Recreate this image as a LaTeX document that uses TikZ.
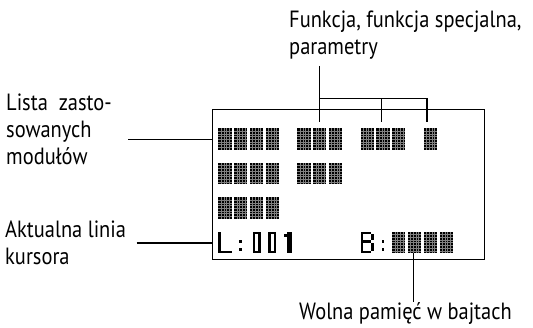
\documentclass[tikz,border=0pt]{standalone}
\usepackage{fontspec}
\setmainfont[FakeStretch=0.87]{PT Sans}
\newcommand\lcdpix[4]{\fill[lcdon] ({218.3+#1*15.8+#3*2.66},{128.3+#2*34.47+#4*2.71}) rectangle ++(2.66,2.71);}
\newcommand\lcdblock[2]{%
  \fill[lcdon] ({218.3+#1*15.8},{128.3+#2*34.47}) rectangle ++(13.3,21.7);
  \foreach \c in {1,...,4}{\draw[lcdgrid] ({218.3+#1*15.8+\c*2.66},{128.3+#2*34.47}) -- ++(0,21.7);}
  \foreach \r in {1,...,7}{\draw[lcdgrid] ({218.3+#1*15.8},{128.3+#2*34.47+\r*2.71}) -- ++(13.3,0);}}
\newcommand\lcdglyph[3]{\foreach \c/\r in {#3}{\lcdpix{#1}{#2}{\c}{\r}}}
\begin{document}
\begin{tikzpicture}[x=1pt,y=-1pt,
  lcdon/.style={fill=black},
  lcdgrid/.style={draw=black!50,line width=0.2pt},
  lead/.style={line width=1.1pt},
  lbl/.style={inner sep=0pt,anchor=base west,font=\fontsize{23.5}{27}\selectfont}]
\useasboundingbox (0,0) rectangle (533,328);
% LCD frame
\node[draw,line width=1.1pt,minimum width=272pt,minimum height=150pt,anchor=north west,inner sep=0pt] (lcd) at (212,109.3) {};
% row 1
\foreach \k in {0,1,2,3,5,6,7,9,10,11,13}{\lcdblock{\k}{0}}
% row 2
\foreach \k in {0,1,2,3,5,6,7}{\lcdblock{\k}{1}}
% row 3
\foreach \k in {0,1,2,3}{\lcdblock{\k}{2}}
% row 4: L:001  B:####
\lcdglyph{0}{3}{0/0,0/1,0/2,0/3,0/4,0/5,0/6,0/7,1/7,2/7,3/7,4/7}
\lcdglyph{1}{3}{2/3,2/6}
\lcdglyph{2}{3}{1/0,1/1,1/2,1/3,1/4,1/5,1/6,1/7,3/0,3/1,3/2,3/3,3/4,3/5,3/6,3/7,2/0,2/7}
\lcdglyph{3}{3}{1/0,1/1,1/2,1/3,1/4,1/5,1/6,1/7,3/0,3/1,3/2,3/3,3/4,3/5,3/6,3/7,2/0,2/7}
\lcdglyph{4}{3}{2/0,2/1,2/2,2/3,2/4,2/5,2/6,2/7,3/0,3/1,3/2,3/3,3/4,3/5,3/6,3/7,1/1}
\lcdglyph{9}{3}{0/0,1/0,2/0,3/0,0/1,0/2,0/3,0/4,0/5,0/6,0/7,1/7,2/7,3/7,4/1,4/2,1/3,2/3,3/3,4/4,4/5,4/6}
\lcdglyph{10}{3}{2/3,2/6}
\foreach \k in {11,12,13,14}{\lcdblock{\k}{3}}
% labels
\node[lbl] (f1) at (289,28) {Funkcja, funkcja specjalna,};
\node[lbl] (f2) at (289,55) {parametry};
\node[lbl] (l1) at (6,111) {Lista\ \ zasto-};
\node[lbl] (l2) at (6,138) {sowanych};
\node[lbl] (l3) at (6,165) {modułów};
\node[lbl] (a1) at (5,238) {Aktualna linia};
\node[lbl] (a2) at (5,265) {kursora};
\node[lbl] (w1) at (299,320) {Wolna pamięć w bajtach};
% leader coordinates
\coordinate (ftop) at (319.3,66);
\coordinate (fa) at (319.3,122.5);
\coordinate (fb) at (381.3,122.5);
\coordinate (fc) at (427,122.5);
\coordinate (fbar) at (319.3,98.3);
\coordinate (lstart) at (128.3,139.5);
\coordinate (astart) at (136.7,243);
\coordinate (wtop) at (413.3,253.5);
\coordinate (wbot) at (413.3,302);
% leaders
\draw[lead] (ftop) -- (fa);
\draw[lead] (fbar) -| (fb);
\draw[lead] (fbar) -| (fc);
\draw[lead] (lstart) -- (lstart -| lcd.west);
\draw[lead] (astart) -- (astart -| lcd.west);
\draw[lead] (wtop) -- (wbot);
\end{tikzpicture}
\end{document}
